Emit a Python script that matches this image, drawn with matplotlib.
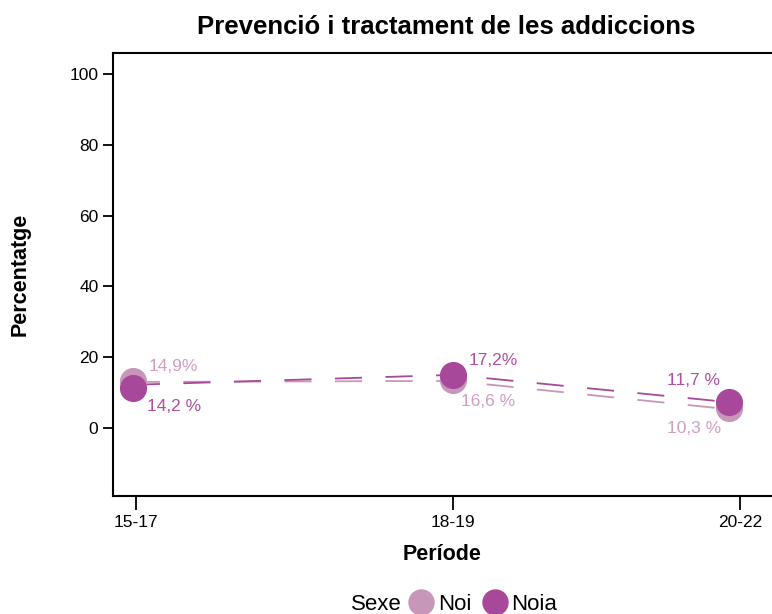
import matplotlib.pyplot as plt
from matplotlib.lines import Line2D

plt.rcParams['font.family'] = ['Liberation Sans', 'DejaVu Sans']

# data
periods = ['15-17', '18-19', '20-22']
period_pos = [0, 1, 1.905]
point_x = [-0.01, 1.0, 1.87]
noi_vals = [13.3, 13.6, 5.6]
noia_vals = [11.2, 15.0, 7.3]
noi_labels = ['14,9%', '16,6 %', '10,3 %']
noia_labels = ['14,2 %', '17,2%', '11,7 %']

c_noi = '#c896b9'
c_noia = '#a8489a'
c_noi_txt = '#cf9fc3'
c_noia_txt = '#b04ea0'

fig = plt.figure(figsize=(7.72, 6.14), dpi=100)
ax = fig.add_axes([113 / 772, 1 - 496 / 614, 1 - 113 / 772, (496 - 53) / 614])

ax.plot(point_x, [v - 0.3 for v in noi_vals], color=c_noi, lw=1.3,
        dashes=(15, 13), zorder=2)
ax.plot(point_x, [v + 1.0 for v in noia_vals[:1]] + noia_vals[1:], color=c_noia, lw=1.3,
        dashes=(15, 13), zorder=2)
ax.plot(point_x, noi_vals, 'o', color=c_noi, ms=18.5, zorder=3)
ax.plot(point_x, noia_vals, 'o', color=c_noia, ms=18.5, zorder=4)

# value labels
fs = 12.5
ax.text(point_x[0] + 0.05, 17.5, noi_labels[0], color=c_noi_txt, fontsize=fs, va='center')
ax.text(point_x[0] + 0.045, 6.0, noia_labels[0], color=c_noia_txt, fontsize=fs, va='center')
ax.text(point_x[1] + 0.048, 19.2, noia_labels[1], color=c_noia_txt, fontsize=fs, va='center')
ax.text(point_x[1] + 0.025, 7.6, noi_labels[1], color=c_noi_txt, fontsize=fs, va='center')
ax.text(point_x[2] - 0.195, 13.3, noia_labels[2], color=c_noia_txt, fontsize=fs, va='center')
ax.text(point_x[2] - 0.195, -0.2, noi_labels[2], color=c_noi_txt, fontsize=fs, va='center')

ax.set_xlim(-0.0726, 2.006)
ax.set_ylim(-19.2, 105.9)
ax.set_xticks(period_pos)
ax.set_xticklabels(periods)
ax.set_yticks([0, 20, 40, 60, 80, 100])
ax.tick_params(axis='y', length=7, width=1.3, labelsize=12.5)
ax.tick_params(axis='x', length=10, width=1.3, labelsize=12.5)
for s in ['left', 'bottom', 'top']:
    ax.spines[s].set_linewidth(1.5)
ax.spines['right'].set_visible(False)

ax.set_xlabel('Període', fontsize=15.5, fontweight='bold', labelpad=10)
ax.set_ylabel('Percentatge', fontsize=15.5, fontweight='bold', labelpad=28)
fig.text(446 / 772, 1 - 27 / 614, 'Prevenció i tractament de les addiccions',
         ha='center', va='center', fontsize=18.5, fontweight='bold')

handles = [Line2D([], [], marker='o', ls='', color=c_noi, ms=18),
           Line2D([], [], marker='o', ls='', color=c_noia, ms=18)]
leg = fig.legend(handles, ['Noi', 'Noia'], loc='center', bbox_to_anchor=(483 / 772, 1 - 604 / 614),
                 ncol=2, frameon=False, fontsize=16, handletextpad=0.2, columnspacing=0.5,
                 handlelength=1.1)
fig.text(376 / 772, 1 - 604 / 614, 'Sexe', ha='center', va='center', fontsize=16)

fig.savefig('out.png', dpi=100)
